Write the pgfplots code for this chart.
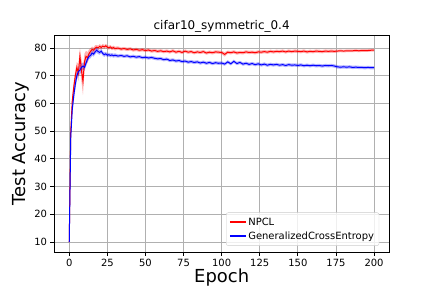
\documentclass[border=0pt]{standalone}
\usepackage{fontspec}
\setmainfont{DejaVu Sans}
\usepackage{pgfplots}
\usepackage{pgfplotstable}
\usepgfplotslibrary{fillbetween}
\pgfplotsset{compat=1.18}
\pgfplotstableread{
e r rs b bs
0 10 0.1 10 0.1
1 50 1.5 48 1.5
2 61 2 58 2
3 66 2 63 2
4 70 2 67 2
5 73 2 70 1.5
6 71 3 71.5 1.5
7 77 3 72 1.5
8 72 4 73 1.5
9 68 5 73.5 1.2
10 75 3 73 1.2
11 77 2 74.5 1.2
12 76.5 2 76 1
13 78 1.5 77 1
14 78.8 1.2 77.3 1
15 79.5 1 78.2 1
16 79.2 1 77.8 0.9
17 80 1 78.6 0.9
18 80.3 0.8 79.2 0.9
19 80.1 0.8 78.7 0.9
20 80.6 0.8 78.4 0.8
21 80.2 0.8 78.9 0.8
22 80.7 0.8 78.0 0.8
23 80.4 0.7 77.6 0.8
24 80.8 0.7 77.9 0.7
25 80.3 0.7 77.4 0.7
26 80.1 0.7 77.6 0.7
27 80.4 0.7 77.3 0.7
28 79.9 0.7 77.5 0.7
29 80.2 0.7 77.2 0.7
30 79.8 0.7 77.4 0.7
32 80.0 0.6 77.1 0.6
34 79.6 0.6 77.3 0.6
36 79.8 0.6 77.0 0.6
38 79.5 0.6 77.2 0.6
40 79.7 0.6 76.8 0.6
42 79.3 0.6 77.0 0.6
44 79.5 0.6 76.7 0.6
46 79.2 0.6 76.9 0.6
48 79.4 0.6 76.5 0.6
50 79.1 0.6 76.7 0.6
52 79.3 0.6 76.4 0.6
54 78.9 0.6 76.6 0.6
56 79.1 0.6 76.3 0.6
58 78.8 0.6 76.1 0.6
60 79.0 0.6 76.2 0.6
62 78.7 0.6 75.8 0.6
64 78.9 0.6 76.0 0.6
66 78.6 0.6 75.5 0.6
68 79.0 0.6 75.7 0.6
70 78.5 0.6 75.3 0.6
72 78.8 0.6 75.5 0.6
74 78.4 0.6 75.1 0.6
76 78.9 0.6 75.3 0.6
78 78.5 0.6 74.9 0.6
80 78.7 0.6 75.1 0.6
82 78.3 0.6 74.8 0.6
84 78.6 0.6 75.0 0.6
86 78.4 0.6 74.6 0.6
88 78.7 0.6 74.9 0.6
90 78.2 0.6 74.5 0.6
92 78.5 0.6 74.8 0.6
94 78.3 0.6 74.4 0.6
96 78.6 0.6 74.7 0.6
98 78.5 0.6 74.5 0.6
100 78.4 0.6 74.6 0.6
102 77.7 0.8 74.2 0.6
104 78.5 0.6 75.0 0.6
106 78.3 0.6 74.3 0.6
108 78.6 0.6 75.2 0.6
110 78.2 0.6 74.4 0.6
112 78.4 0.6 74.8 0.6
114 78.3 0.6 74.2 0.6
116 78.6 0.6 74.5 0.6
118 78.4 0.6 74.1 0.6
120 78.5 0.6 74.4 0.6
122 78.3 0.6 74.0 0.6
124 78.6 0.6 74.3 0.6
126 78.5 0.6 73.9 0.6
128 78.7 0.6 74.2 0.6
130 78.5 0.6 73.8 0.6
132 78.8 0.6 74.1 0.6
134 78.6 0.6 73.9 0.6
136 78.8 0.6 74.1 0.6
138 78.7 0.6 73.8 0.6
140 78.9 0.6 74.0 0.6
142 78.6 0.6 73.7 0.6
144 78.9 0.6 74.0 0.6
146 78.7 0.6 73.8 0.6
148 78.9 0.6 73.9 0.6
150 78.8 0.6 73.7 0.6
152 78.7 0.6 73.9 0.6
154 78.9 0.6 73.6 0.6
156 78.6 0.6 73.8 0.6
158 78.8 0.6 73.6 0.6
160 78.7 0.6 73.8 0.6
162 78.9 0.6 73.6 0.6
164 78.8 0.6 73.7 0.6
166 78.7 0.6 73.5 0.6
168 78.9 0.6 73.7 0.6
170 78.8 0.6 73.6 0.6
172 78.9 0.6 73.7 0.6
174 78.8 0.6 73.5 0.6
176 78.9 0.5 73.2 0.6
178 79.0 0.5 73.1 0.6
180 78.9 0.5 73.2 0.6
182 79.0 0.5 73.1 0.6
184 79.0 0.5 73.2 0.6
186 79.0 0.5 73.0 0.6
188 79.1 0.5 73.1 0.6
190 79.0 0.5 73.0 0.6
192 79.1 0.5 73.0 0.6
194 79.1 0.5 72.9 0.6
196 79.1 0.5 73.0 0.6
198 79.2 0.5 72.9 0.6
200 79.2 0.5 72.9 0.6
}\datatable
\begin{document}
\begin{tikzpicture}
\begin{axis}[
  at={(0,0)}, anchor=south west,
  scale only axis, width=335.3bp, height=217.3bp,
  xmin=-10, xmax=210, ymin=6.3, ymax=84.7,
  xtick={0,25,...,200}, ytick={10,20,...,80},
  grid=major, grid style={color=black!31, line width=0.8pt},
  axis line style={line width=0.8pt},
  tick align=outside, tick pos=lower,
  major tick length=3.5bp,
  tick style={line width=0.8pt, color=black},
  /pgf/number format/assume math mode=true,
  tick label style={font=\fontsize{10}{12}\selectfont},
  xlabel={Epoch}, ylabel={Test Accuracy},
  label style={font=\fontsize{18}{21}\selectfont},
  xlabel style={yshift=5bp},
  ylabel style={yshift=-2bp},
  title={cifar10\_symmetric\_0.4},
  title style={font=\fontsize{12}{14}\selectfont, yshift=-7bp},
  legend pos=south east,
  legend style={font=\fontsize{10}{12}\selectfont, draw=black!20, rounded corners=2bp, fill=white, fill opacity=0.8, text opacity=1, row sep=1bp, inner sep=3bp},
  legend cell align=left,
  legend image code/.code={\draw[#1, line width=1.5pt] (0cm,0cm) -- (0.55cm,0cm);},
]
\addplot[name path=ru, draw=none, forget plot] table[x=e, y expr=\thisrow{r}+\thisrow{rs}] {\datatable};
\addplot[name path=rl, draw=none, forget plot] table[x=e, y expr=\thisrow{r}-\thisrow{rs}] {\datatable};
\addplot[fill=red, fill opacity=0.3, draw=none, forget plot] fill between[of=ru and rl];
\addplot[name path=bu, draw=none, forget plot] table[x=e, y expr=\thisrow{b}+\thisrow{bs}] {\datatable};
\addplot[name path=bl, draw=none, forget plot] table[x=e, y expr=\thisrow{b}-\thisrow{bs}] {\datatable};
\addplot[fill=blue, fill opacity=0.3, draw=none, forget plot] fill between[of=bu and bl];
\addplot[red, line width=1pt, mark=none] table[x=e, y=r] {\datatable};
\addlegendentry{NPCL}
\addplot[blue, line width=1pt, mark=none] table[x=e, y=b] {\datatable};
\addlegendentry{GeneralizedCrossEntropy}
\end{axis}
\pgfresetboundingbox
\path[use as bounding box] (-54bp,-35.7bp) rectangle (378bp,252.3bp);
\end{tikzpicture}
\end{document}
